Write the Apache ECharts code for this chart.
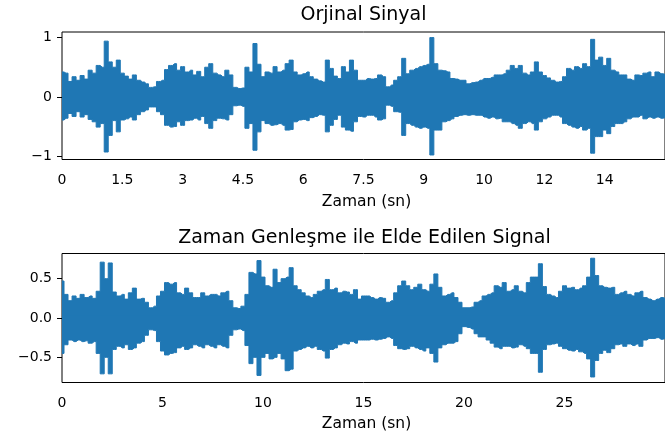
<!DOCTYPE html>
<html><head><meta charset="utf-8">
<script src="https://cdn.jsdelivr.net/npm/echarts@6/dist/echarts.min.js"></script>
<style>html,body{margin:0;padding:0;background:#fff}#c{width:665px;height:441px}</style>
</head><body><div id="c"></div>
<script>
// Sample spacing (seconds) of the envelope readings
const TOP_STEP = 0.1;
const BOT_STEP = 0.2;

// Original signal: upper / lower envelope, 0..15 s
const topUpper = [
0.42,0.40,0.26,0.34,0.28,0.36,0.30,0.45,0.40,0.53,
0.50,0.94,0.59,0.50,0.62,0.40,0.35,0.30,0.37,0.28,
0.25,0.22,0.16,0.17,0.26,0.28,0.46,0.53,0.56,0.45,
0.51,0.42,0.45,0.37,0.43,0.34,0.50,0.56,0.40,0.37,
0.34,0.45,0.37,0.16,0.14,0.15,0.50,0.42,0.90,0.55,
0.34,0.42,0.40,0.51,0.42,0.45,0.56,0.62,0.42,0.37,
0.39,0.42,0.34,0.30,0.27,0.25,0.62,0.48,0.35,0.31,
0.51,0.42,0.62,0.45,0.28,0.28,0.31,0.30,0.31,0.37,
0.34,0.17,0.20,0.28,0.34,0.65,0.39,0.45,0.48,0.51,
0.53,0.55,1.00,0.56,0.45,0.44,0.42,0.31,0.30,0.28,
0.28,0.22,0.24,0.25,0.28,0.31,0.31,0.33,0.37,0.37,
0.39,0.45,0.53,0.48,0.53,0.40,0.37,0.42,0.59,0.42,
0.36,0.32,0.28,0.25,0.26,0.34,0.48,0.45,0.51,0.48,
0.56,0.51,0.97,0.62,0.67,0.53,0.65,0.45,0.42,0.37,
0.37,0.30,0.28,0.37,0.36,0.40,0.42,0.34,0.42,0.39,
0.38];
const topLower = [
-0.39,-0.36,-0.28,-0.33,-0.25,-0.34,-0.30,-0.38,-0.42,-0.51,
-0.45,-0.93,-0.65,-0.40,-0.59,-0.39,-0.37,-0.34,-0.39,-0.30,
-0.25,-0.22,-0.17,-0.17,-0.25,-0.30,-0.48,-0.51,-0.50,-0.42,
-0.48,-0.40,-0.39,-0.36,-0.39,-0.33,-0.45,-0.53,-0.40,-0.36,
-0.37,-0.39,-0.30,-0.15,-0.14,-0.16,-0.53,-0.45,-0.90,-0.59,
-0.40,-0.45,-0.48,-0.47,-0.45,-0.48,-0.56,-0.55,-0.42,-0.39,
-0.38,-0.40,-0.35,-0.33,-0.30,-0.31,-0.59,-0.48,-0.38,-0.31,
-0.51,-0.56,-0.58,-0.42,-0.33,-0.34,-0.31,-0.31,-0.34,-0.39,
-0.37,-0.14,-0.16,-0.25,-0.26,-0.65,-0.45,-0.48,-0.51,-0.53,
-0.51,-0.53,-0.98,-0.56,-0.56,-0.42,-0.40,-0.37,-0.33,-0.31,
-0.30,-0.31,-0.30,-0.31,-0.31,-0.34,-0.36,-0.34,-0.37,-0.36,
-0.42,-0.42,-0.45,-0.48,-0.53,-0.45,-0.42,-0.45,-0.56,-0.42,
-0.37,-0.34,-0.31,-0.31,-0.34,-0.45,-0.48,-0.51,-0.53,-0.50,
-0.56,-0.53,-0.95,-0.67,-0.67,-0.56,-0.62,-0.50,-0.45,-0.45,
-0.42,-0.37,-0.34,-0.34,-0.31,-0.37,-0.34,-0.36,-0.34,-0.36,
-0.35];

// Time-stretched signal: upper / lower envelope, 0..30 s
const botUpper = [
0.47,0.30,0.22,0.28,0.25,0.30,0.26,0.28,0.25,0.34,
0.71,0.50,0.70,0.33,0.28,0.30,0.24,0.32,0.38,0.24,
0.25,0.20,0.13,0.15,0.28,0.34,0.45,0.43,0.45,0.32,
0.30,0.38,0.32,0.26,0.26,0.32,0.28,0.30,0.30,0.28,
0.32,0.34,0.22,0.13,0.12,0.15,0.30,0.58,0.56,0.73,
0.52,0.41,0.39,0.62,0.45,0.50,0.52,0.64,0.41,0.36,
0.32,0.28,0.26,0.30,0.34,0.36,0.49,0.36,0.38,0.32,
0.34,0.33,0.30,0.36,0.24,0.28,0.28,0.26,0.24,0.26,
0.25,0.20,0.22,0.32,0.41,0.47,0.41,0.36,0.39,0.43,
0.36,0.34,0.43,0.56,0.39,0.28,0.30,0.32,0.26,0.20,
0.13,0.13,0.14,0.20,0.22,0.28,0.30,0.32,0.41,0.39,
0.45,0.34,0.36,0.41,0.34,0.32,0.45,0.52,0.52,0.69,
0.40,0.30,0.28,0.26,0.34,0.41,0.38,0.39,0.36,0.38,
0.41,0.52,0.76,0.54,0.41,0.39,0.38,0.39,0.30,0.32,
0.34,0.30,0.28,0.32,0.34,0.26,0.24,0.22,0.24,0.26,
0.25];
const botLower = [
-0.45,-0.34,-0.28,-0.30,-0.28,-0.30,-0.29,-0.32,-0.30,-0.45,
-0.71,-0.50,-0.71,-0.40,-0.36,-0.38,-0.34,-0.40,-0.38,-0.32,
-0.30,-0.22,-0.15,-0.16,-0.30,-0.42,-0.47,-0.45,-0.44,-0.38,
-0.36,-0.40,-0.38,-0.34,-0.36,-0.38,-0.34,-0.36,-0.38,-0.34,
-0.36,-0.38,-0.22,-0.15,-0.14,-0.16,-0.35,-0.58,-0.50,-0.73,
-0.50,-0.45,-0.52,-0.50,-0.45,-0.52,-0.67,-0.65,-0.42,-0.40,
-0.38,-0.36,-0.38,-0.36,-0.40,-0.42,-0.51,-0.40,-0.38,-0.34,
-0.32,-0.33,-0.30,-0.32,-0.28,-0.28,-0.28,-0.27,-0.28,-0.27,
-0.26,-0.24,-0.26,-0.35,-0.39,-0.40,-0.39,-0.36,-0.38,-0.40,
-0.42,-0.38,-0.45,-0.56,-0.38,-0.34,-0.32,-0.32,-0.30,-0.20,
-0.11,-0.12,-0.14,-0.20,-0.24,-0.24,-0.28,-0.32,-0.37,-0.39,
-0.36,-0.36,-0.38,-0.37,-0.34,-0.36,-0.39,-0.45,-0.45,-0.69,
-0.40,-0.34,-0.33,-0.32,-0.36,-0.39,-0.41,-0.42,-0.40,-0.43,
-0.45,-0.52,-0.75,-0.54,-0.45,-0.41,-0.44,-0.39,-0.34,-0.33,
-0.36,-0.33,-0.35,-0.33,-0.36,-0.28,-0.26,-0.26,-0.25,-0.27,
-0.26];

// Tick positions and labels
const topXTickPos = [0, 1.5, 3, 4.5, 6, 7.5, 9, 10.5, 12, 13.5];
const topXTickText = ['0', '1.5', '3', '4.5', '6', '7.5', '9', '10', '12', '14'];
const topYTicks = [-1, 0, 1];
const botXTicks = [0, 5, 10, 15, 20, 25];
const botYTicks = [-0.5, 0, 0.5];

const titles = ['Orjinal Sinyal', 'Zaman Genleşme ile Elde Edilen Signal'];
const xName = 'Zaman (sn)';

const FONT = 'DejaVu Sans';
const BLUE = '#1f77b4';
const INK = '#000';

function pts(arr, step) { return arr.map((v, i) => [Math.round(i * step * 100) / 100, v]); }
function minus(s) { return s.replace('-', '\u2212'); }

function xAxisCfg(gi, max, ticks, fmt) {
  return {
    type: 'value', gridIndex: gi, min: 0, max: max,
    axisLine: { show: false },
    splitLine: { show: false },
    axisTick: { show: true, length: 5, lineStyle: { color: INK, width: 1 }, customValues: ticks },
    axisLabel: { show: true, customValues: ticks, formatter: fmt, color: INK, fontFamily: FONT, fontSize: 14, margin: 14 }
  };
}
function yAxisCfg(gi, min, max, ticks, fmt) {
  return {
    type: 'value', gridIndex: gi, min: min, max: max,
    axisLine: { show: false },
    splitLine: { show: false },
    axisTick: { show: true, length: 5, lineStyle: { color: INK, width: 1 }, customValues: ticks },
    axisLabel: { show: true, customValues: ticks, formatter: fmt, color: INK, fontFamily: FONT, fontSize: 14, margin: 10 }
  };
}
function areaSeries(xi, data, origin) {
  return {
    type: 'line', xAxisIndex: xi, yAxisIndex: xi, data: data,
    step: 'middle',
    showSymbol: false, symbol: 'none',
    lineStyle: { color: BLUE, width: 1 },
    itemStyle: { color: BLUE },
    areaStyle: { color: BLUE, opacity: 1, origin: origin },
    clip: true, z: 2
  };
}

const chart = echarts.init(document.getElementById('c'), null, { renderer: 'canvas' });
chart.setOption({
  animation: false,
  backgroundColor: '#fff',
  grid: [
    { left: 62, top: 32, width: 606.5, height: 127.5, show: true, borderColor: INK, borderWidth: 1, backgroundColor: 'transparent' },
    { left: 62, top: 253.5, width: 606, height: 129, show: true, borderColor: INK, borderWidth: 1, backgroundColor: 'transparent' }
  ],
  xAxis: [
    xAxisCfg(0, 15, topXTickPos, v => { const i = topXTickPos.findIndex(p => Math.abs(p - v) < 1e-6); return i < 0 ? '' : topXTickText[i]; }),
    xAxisCfg(1, 30, botXTicks, v => String(v))
  ],
  yAxis: [
    yAxisCfg(0, -1.056, 1.094, topYTicks, v => minus(String(v))),
    yAxisCfg(1, -0.82, 0.82, botYTicks, v => minus(v.toFixed(1)))
  ],
  series: [
    areaSeries(0, pts(topUpper, TOP_STEP), -0.03),
    areaSeries(0, pts(topLower, TOP_STEP), 0.03),
    areaSeries(1, pts(botUpper, BOT_STEP), -0.03),
    areaSeries(1, pts(botLower, BOT_STEP), 0.03)
  ],
  graphic: [
    { type: 'text', x: 363.5, y: 15, style: { text: titles[0], fontFamily: FONT, fontSize: 19, fill: INK, align: 'center', verticalAlign: 'middle' } },
    { type: 'text', x: 364.5, y: 238.5, style: { text: titles[1], fontFamily: FONT, fontSize: 19, fill: INK, align: 'center', verticalAlign: 'middle' } },
    { type: 'text', x: 366.5, y: 202, style: { text: xName, fontFamily: FONT, fontSize: 15.5, fill: INK, align: 'center', verticalAlign: 'middle' } },
    { type: 'text', x: 366.5, y: 424, style: { text: xName, fontFamily: FONT, fontSize: 15.5, fill: INK, align: 'center', verticalAlign: 'middle' } }
  ]
});
</script>
</body></html>
